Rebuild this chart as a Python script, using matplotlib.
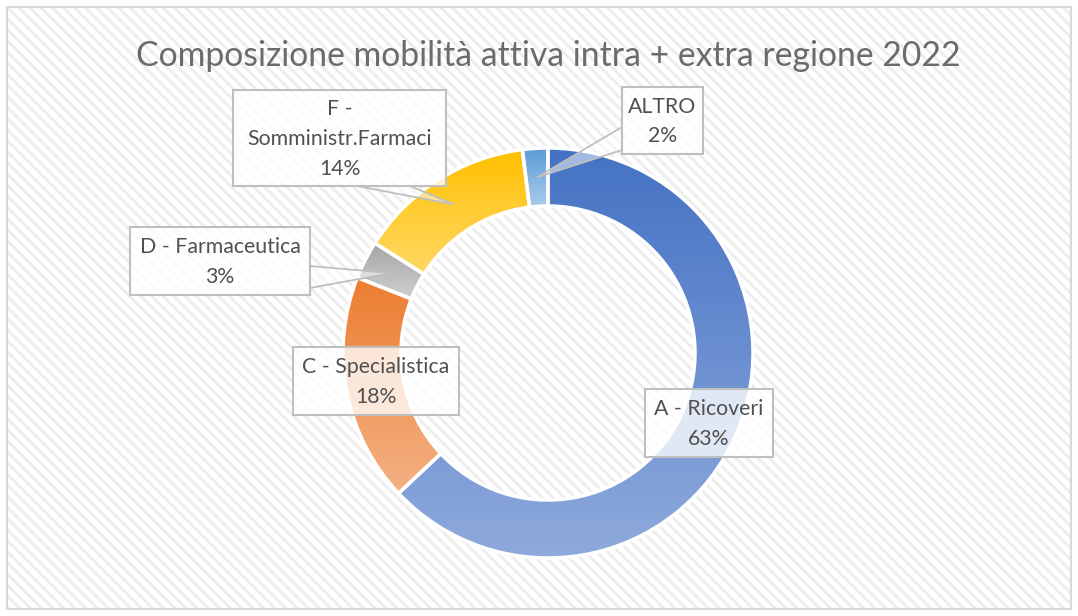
import numpy as np
import matplotlib
matplotlib.use('Agg')
import matplotlib.pyplot as plt
from matplotlib.colors import LinearSegmentedColormap
from matplotlib.patches import Rectangle, Polygon

W, H = 1078, 616

# data
categories = ['A - Ricoveri', 'C - Specialistica', 'D - Farmaceutica',
              'F -\nSomministr.Farmaci', 'ALTRO']
shares = [63, 18, 3, 14, 2]

# colours: top (dark) / bottom (light) of each gradient
top_colors = ['#4472C4', '#ED7D31', '#A5A5A5', '#FFC000', '#5B9BD5']
bottom_colors = ['#8FAADC', '#F4B183', '#D0D0D0', '#FFD966', '#A9CBEB']

# label boxes in pixel coords (x0, y0, x1, y1), y from top
boxes = [(645, 389, 773, 457), (293, 347, 459, 415), (130, 227, 310, 295),
         (233, 90, 446, 186), (622, 87, 703, 154)]
# callout base points on the box edge (None = no leader)
callouts = [None, None, [(310, 266), (310, 288)],
            [(357, 186), (410, 186)], [(622, 127), (622, 150)]]

plt.rcParams['font.family'] = ['Lato', 'DejaVu Sans']
plt.rcParams['hatch.linewidth'] = 2.0

fig = plt.figure(figsize=(W / 100, H / 100), dpi=100)
ax = fig.add_axes([0, 0, 1, 1])
ax.axis('off')

# background: hatched chart area with thin border
ax.add_patch(Rectangle((7, 7), W - 14, H - 14, facecolor='white',
                       edgecolor='#EDEDED', hatch='\\\\\\', lw=0, zorder=0))
ax.add_patch(Rectangle((7, 7), W - 14, H - 14, facecolor='none',
                       edgecolor='#D9D9D9', lw=1.5, zorder=1))

cx, cy, R, ring = 548, H - 353, 205, 58
wedges, _ = ax.pie(shares, center=(cx, cy), radius=R, startangle=90,
                   counterclock=False, frame=True,
                   wedgeprops=dict(width=ring, edgecolor='white', linewidth=2.5))

grad = np.linspace(0, 1, 256).reshape(-1, 1)
for w, c_top, c_bot in zip(wedges, top_colors, bottom_colors):
    w.set_facecolor('none')
    w.set_zorder(3)
    ext = w.get_path().get_extents()
    cmap = LinearSegmentedColormap.from_list('g', [c_bot, c_top])
    im = ax.imshow(grad, extent=(ext.x0, ext.x1, ext.y0, ext.y1), origin='lower',
                   cmap=cmap, aspect='auto', zorder=2, interpolation='bilinear')
    im.set_clip_path(w)

# labels
for w, name, v, box, base in zip(wedges, categories, shares, boxes, callouts):
    x0, y0, x1, y1 = box
    if base is not None:
        ang = np.deg2rad((w.theta1 + w.theta2) / 2)
        rm = R - ring / 2
        tip = (cx + rm * np.cos(ang), cy + rm * np.sin(ang))
        pts = [(base[0][0], H - base[0][1]), tip, (base[1][0], H - base[1][1])]
        ax.add_patch(Polygon(pts, closed=True, facecolor=(1, 1, 1, 0.5),
                             edgecolor='#BFBFBF', lw=1.3, zorder=4))
    ax.add_patch(Rectangle((x0, H - y1), x1 - x0, y1 - y0,
                           facecolor=(1, 1, 1, 0.78), edgecolor='#BFBFBF',
                           lw=1.5, zorder=5))
    ax.text((x0 + x1) / 2, H - (y0 + y1) / 2 - 1, f'{name}\n{v}%', ha='center',
            va='center', fontsize=15.3, color='#505050', linespacing=1.6,
            zorder=6)

ax.text(cx, H - 56, 'Composizione mobilità attiva intra + extra regione 2022',
        ha='center', va='center', fontsize=24.3, color='#6B6B6B')

ax.set_xlim(0, W)
ax.set_ylim(0, H)

fig.savefig('out.png', dpi=100)
